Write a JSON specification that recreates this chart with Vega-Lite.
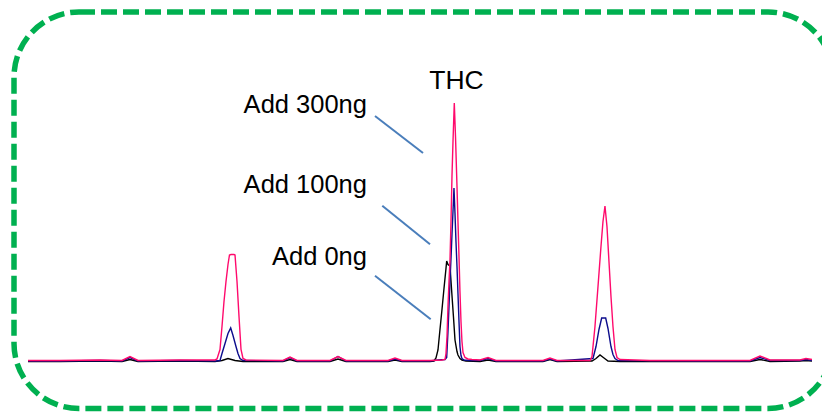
{
  "$schema": "https://vega.github.io/schema/vega-lite/v6.json",
  "width": 819,
  "height": 396.5,
  "autosize": {"type": "none"},
  "padding": {"left": 14, "top": 12, "right": -11, "bottom": 3.5},
  "background": "white",
  "config": {
    "view": {"stroke": "#00b050", "strokeWidth": 5.5, "strokeDash": [16, 6], "cornerRadius": 65},
    "font": "Liberation Sans"
  },
  "datasets": {
    "traces": [
      {"sample": "Add 0ng", "time": 0, "signal": 0},
      {"sample": "Add 0ng", "time": 0.816, "signal": 0},
      {"sample": "Add 0ng", "time": 1.837, "signal": 0.5},
      {"sample": "Add 0ng", "time": 2.398, "signal": 0},
      {"sample": "Add 0ng", "time": 2.602, "signal": 2},
      {"sample": "Add 0ng", "time": 2.806, "signal": 0},
      {"sample": "Add 0ng", "time": 3.878, "signal": 0.5},
      {"sample": "Add 0ng", "time": 4.77, "signal": 0},
      {"sample": "Add 0ng", "time": 4.949, "signal": 1},
      {"sample": "Add 0ng", "time": 5.102, "signal": 3},
      {"sample": "Add 0ng", "time": 5.281, "signal": 1},
      {"sample": "Add 0ng", "time": 5.485, "signal": 0},
      {"sample": "Add 0ng", "time": 6.505, "signal": 0},
      {"sample": "Add 0ng", "time": 6.684, "signal": 2},
      {"sample": "Add 0ng", "time": 6.862, "signal": 0},
      {"sample": "Add 0ng", "time": 7.704, "signal": 0},
      {"sample": "Add 0ng", "time": 7.908, "signal": 2.5},
      {"sample": "Add 0ng", "time": 8.112, "signal": 0},
      {"sample": "Add 0ng", "time": 9.184, "signal": 0},
      {"sample": "Add 0ng", "time": 9.362, "signal": 1.5},
      {"sample": "Add 0ng", "time": 9.541, "signal": 0},
      {"sample": "Add 0ng", "time": 10.255, "signal": 0},
      {"sample": "Add 0ng", "time": 10.357, "signal": 0.5},
      {"sample": "Add 0ng", "time": 10.408, "signal": 3.5},
      {"sample": "Add 0ng", "time": 10.459, "signal": 11.5},
      {"sample": "Add 0ng", "time": 10.51, "signal": 32},
      {"sample": "Add 0ng", "time": 10.561, "signal": 52},
      {"sample": "Add 0ng", "time": 10.612, "signal": 73},
      {"sample": "Add 0ng", "time": 10.663, "signal": 93},
      {"sample": "Add 0ng", "time": 10.681, "signal": 100.5},
      {"sample": "Add 0ng", "time": 10.714, "signal": 97},
      {"sample": "Add 0ng", "time": 10.765, "signal": 95.5},
      {"sample": "Add 0ng", "time": 10.816, "signal": 66},
      {"sample": "Add 0ng", "time": 10.855, "signal": 44},
      {"sample": "Add 0ng", "time": 10.893, "signal": 21.5},
      {"sample": "Add 0ng", "time": 10.944, "signal": 10},
      {"sample": "Add 0ng", "time": 10.969, "signal": 6.5},
      {"sample": "Add 0ng", "time": 11.02, "signal": 3},
      {"sample": "Add 0ng", "time": 11.071, "signal": 1.5},
      {"sample": "Add 0ng", "time": 11.173, "signal": 0.5},
      {"sample": "Add 0ng", "time": 11.531, "signal": 0},
      {"sample": "Add 0ng", "time": 11.735, "signal": 1.5},
      {"sample": "Add 0ng", "time": 11.939, "signal": 0},
      {"sample": "Add 0ng", "time": 13.138, "signal": 0},
      {"sample": "Add 0ng", "time": 13.316, "signal": 2},
      {"sample": "Add 0ng", "time": 13.495, "signal": 0},
      {"sample": "Add 0ng", "time": 14.388, "signal": 0.5},
      {"sample": "Add 0ng", "time": 14.49, "signal": 3},
      {"sample": "Add 0ng", "time": 14.592, "signal": 6.5},
      {"sample": "Add 0ng", "time": 14.694, "signal": 3.5},
      {"sample": "Add 0ng", "time": 14.796, "signal": 0.5},
      {"sample": "Add 0ng", "time": 15.102, "signal": 0},
      {"sample": "Add 0ng", "time": 17.143, "signal": 0},
      {"sample": "Add 0ng", "time": 18.418, "signal": 0},
      {"sample": "Add 0ng", "time": 18.673, "signal": 2},
      {"sample": "Add 0ng", "time": 18.929, "signal": 0},
      {"sample": "Add 0ng", "time": 19.694, "signal": 0.5},
      {"sample": "Add 0ng", "time": 19.847, "signal": 1},
      {"sample": "Add 0ng", "time": 20.0, "signal": 0.5},

      {"sample": "Add 100ng", "time": 0, "signal": 0.5},
      {"sample": "Add 100ng", "time": 0.816, "signal": 0.5},
      {"sample": "Add 100ng", "time": 1.837, "signal": 1},
      {"sample": "Add 100ng", "time": 2.398, "signal": 0.5},
      {"sample": "Add 100ng", "time": 2.602, "signal": 4},
      {"sample": "Add 100ng", "time": 2.806, "signal": 0.5},
      {"sample": "Add 100ng", "time": 3.878, "signal": 1},
      {"sample": "Add 100ng", "time": 4.796, "signal": 0.5},
      {"sample": "Add 100ng", "time": 4.898, "signal": 1},
      {"sample": "Add 100ng", "time": 4.949, "signal": 8},
      {"sample": "Add 100ng", "time": 5.026, "signal": 18},
      {"sample": "Add 100ng", "time": 5.102, "signal": 28},
      {"sample": "Add 100ng", "time": 5.171, "signal": 33.5},
      {"sample": "Add 100ng", "time": 5.23, "signal": 26},
      {"sample": "Add 100ng", "time": 5.306, "signal": 15},
      {"sample": "Add 100ng", "time": 5.357, "signal": 8},
      {"sample": "Add 100ng", "time": 5.408, "signal": 3},
      {"sample": "Add 100ng", "time": 5.485, "signal": 1},
      {"sample": "Add 100ng", "time": 6.505, "signal": 0.5},
      {"sample": "Add 100ng", "time": 6.684, "signal": 4},
      {"sample": "Add 100ng", "time": 6.862, "signal": 0.5},
      {"sample": "Add 100ng", "time": 7.704, "signal": 0.5},
      {"sample": "Add 100ng", "time": 7.908, "signal": 5},
      {"sample": "Add 100ng", "time": 8.112, "signal": 0.5},
      {"sample": "Add 100ng", "time": 9.184, "signal": 0.5},
      {"sample": "Add 100ng", "time": 9.362, "signal": 2.5},
      {"sample": "Add 100ng", "time": 9.541, "signal": 0.5},
      {"sample": "Add 100ng", "time": 10.255, "signal": 0.5},
      {"sample": "Add 100ng", "time": 10.459, "signal": 1.5},
      {"sample": "Add 100ng", "time": 10.638, "signal": 2},
      {"sample": "Add 100ng", "time": 10.681, "signal": 4},
      {"sample": "Add 100ng", "time": 10.714, "signal": 30},
      {"sample": "Add 100ng", "time": 10.74, "signal": 55},
      {"sample": "Add 100ng", "time": 10.765, "signal": 80},
      {"sample": "Add 100ng", "time": 10.791, "signal": 103},
      {"sample": "Add 100ng", "time": 10.816, "signal": 127},
      {"sample": "Add 100ng", "time": 10.842, "signal": 150},
      {"sample": "Add 100ng", "time": 10.867, "signal": 173.5},
      {"sample": "Add 100ng", "time": 10.893, "signal": 148},
      {"sample": "Add 100ng", "time": 10.918, "signal": 120},
      {"sample": "Add 100ng", "time": 10.944, "signal": 95},
      {"sample": "Add 100ng", "time": 10.969, "signal": 68},
      {"sample": "Add 100ng", "time": 10.995, "signal": 40},
      {"sample": "Add 100ng", "time": 11.02, "signal": 15},
      {"sample": "Add 100ng", "time": 11.046, "signal": 6},
      {"sample": "Add 100ng", "time": 11.071, "signal": 3},
      {"sample": "Add 100ng", "time": 11.122, "signal": 1.5},
      {"sample": "Add 100ng", "time": 11.276, "signal": 1},
      {"sample": "Add 100ng", "time": 11.531, "signal": 1},
      {"sample": "Add 100ng", "time": 11.735, "signal": 3},
      {"sample": "Add 100ng", "time": 11.939, "signal": 0.5},
      {"sample": "Add 100ng", "time": 13.138, "signal": 0.5},
      {"sample": "Add 100ng", "time": 13.316, "signal": 2.5},
      {"sample": "Add 100ng", "time": 13.495, "signal": 0.5},
      {"sample": "Add 100ng", "time": 14.413, "signal": 3},
      {"sample": "Add 100ng", "time": 14.49, "signal": 15},
      {"sample": "Add 100ng", "time": 14.566, "signal": 32},
      {"sample": "Add 100ng", "time": 14.635, "signal": 43.5},
      {"sample": "Add 100ng", "time": 14.737, "signal": 43.5},
      {"sample": "Add 100ng", "time": 14.796, "signal": 33},
      {"sample": "Add 100ng", "time": 14.872, "signal": 15},
      {"sample": "Add 100ng", "time": 14.923, "signal": 7},
      {"sample": "Add 100ng", "time": 14.974, "signal": 3},
      {"sample": "Add 100ng", "time": 15.051, "signal": 1},
      {"sample": "Add 100ng", "time": 17.143, "signal": 0.5},
      {"sample": "Add 100ng", "time": 18.418, "signal": 0.5},
      {"sample": "Add 100ng", "time": 18.673, "signal": 4},
      {"sample": "Add 100ng", "time": 18.929, "signal": 1},
      {"sample": "Add 100ng", "time": 19.694, "signal": 1},
      {"sample": "Add 100ng", "time": 19.847, "signal": 2},
      {"sample": "Add 100ng", "time": 20.0, "signal": 1},

      {"sample": "Add 300ng", "time": 0, "signal": 1},
      {"sample": "Add 300ng", "time": 0.816, "signal": 1},
      {"sample": "Add 300ng", "time": 1.837, "signal": 1.5},
      {"sample": "Add 300ng", "time": 2.398, "signal": 1},
      {"sample": "Add 300ng", "time": 2.602, "signal": 5},
      {"sample": "Add 300ng", "time": 2.806, "signal": 1},
      {"sample": "Add 300ng", "time": 3.878, "signal": 1.5},
      {"sample": "Add 300ng", "time": 4.77, "signal": 1.5},
      {"sample": "Add 300ng", "time": 4.821, "signal": 2.5},
      {"sample": "Add 300ng", "time": 4.898, "signal": 12},
      {"sample": "Add 300ng", "time": 4.949, "signal": 35},
      {"sample": "Add 300ng", "time": 5.0, "signal": 60},
      {"sample": "Add 300ng", "time": 5.051, "signal": 80},
      {"sample": "Add 300ng", "time": 5.102, "signal": 97},
      {"sample": "Add 300ng", "time": 5.14, "signal": 106.5},
      {"sample": "Add 300ng", "time": 5.179, "signal": 107},
      {"sample": "Add 300ng", "time": 5.255, "signal": 107},
      {"sample": "Add 300ng", "time": 5.281, "signal": 106.5},
      {"sample": "Add 300ng", "time": 5.332, "signal": 80},
      {"sample": "Add 300ng", "time": 5.383, "signal": 45},
      {"sample": "Add 300ng", "time": 5.434, "signal": 12},
      {"sample": "Add 300ng", "time": 5.485, "signal": 3},
      {"sample": "Add 300ng", "time": 5.561, "signal": 1.5},
      {"sample": "Add 300ng", "time": 6.505, "signal": 1},
      {"sample": "Add 300ng", "time": 6.684, "signal": 4.5},
      {"sample": "Add 300ng", "time": 6.862, "signal": 1},
      {"sample": "Add 300ng", "time": 7.704, "signal": 1},
      {"sample": "Add 300ng", "time": 7.908, "signal": 5},
      {"sample": "Add 300ng", "time": 8.112, "signal": 1},
      {"sample": "Add 300ng", "time": 9.184, "signal": 1},
      {"sample": "Add 300ng", "time": 9.362, "signal": 3.5},
      {"sample": "Add 300ng", "time": 9.541, "signal": 1},
      {"sample": "Add 300ng", "time": 10.255, "signal": 1},
      {"sample": "Add 300ng", "time": 10.561, "signal": 1.5},
      {"sample": "Add 300ng", "time": 10.638, "signal": 2},
      {"sample": "Add 300ng", "time": 10.663, "signal": 8},
      {"sample": "Add 300ng", "time": 10.689, "signal": 25},
      {"sample": "Add 300ng", "time": 10.714, "signal": 55},
      {"sample": "Add 300ng", "time": 10.74, "signal": 80},
      {"sample": "Add 300ng", "time": 10.765, "signal": 101},
      {"sample": "Add 300ng", "time": 10.791, "signal": 140},
      {"sample": "Add 300ng", "time": 10.816, "signal": 185},
      {"sample": "Add 300ng", "time": 10.842, "signal": 220},
      {"sample": "Add 300ng", "time": 10.875, "signal": 258.5},
      {"sample": "Add 300ng", "time": 10.906, "signal": 225},
      {"sample": "Add 300ng", "time": 10.944, "signal": 175},
      {"sample": "Add 300ng", "time": 10.969, "signal": 140},
      {"sample": "Add 300ng", "time": 10.995, "signal": 105},
      {"sample": "Add 300ng", "time": 11.02, "signal": 70},
      {"sample": "Add 300ng", "time": 11.046, "signal": 40},
      {"sample": "Add 300ng", "time": 11.071, "signal": 20},
      {"sample": "Add 300ng", "time": 11.097, "signal": 9},
      {"sample": "Add 300ng", "time": 11.148, "signal": 4},
      {"sample": "Add 300ng", "time": 11.224, "signal": 2.5},
      {"sample": "Add 300ng", "time": 11.327, "signal": 2},
      {"sample": "Add 300ng", "time": 11.531, "signal": 1.5},
      {"sample": "Add 300ng", "time": 11.735, "signal": 4},
      {"sample": "Add 300ng", "time": 11.939, "signal": 1},
      {"sample": "Add 300ng", "time": 13.138, "signal": 1},
      {"sample": "Add 300ng", "time": 13.316, "signal": 3.5},
      {"sample": "Add 300ng", "time": 13.495, "signal": 1},
      {"sample": "Add 300ng", "time": 14.337, "signal": 1},
      {"sample": "Add 300ng", "time": 14.388, "signal": 5},
      {"sample": "Add 300ng", "time": 14.464, "signal": 35},
      {"sample": "Add 300ng", "time": 14.541, "signal": 75},
      {"sample": "Add 300ng", "time": 14.617, "signal": 115},
      {"sample": "Add 300ng", "time": 14.668, "signal": 140},
      {"sample": "Add 300ng", "time": 14.719, "signal": 155.5},
      {"sample": "Add 300ng", "time": 14.77, "signal": 135},
      {"sample": "Add 300ng", "time": 14.821, "signal": 100},
      {"sample": "Add 300ng", "time": 14.872, "signal": 65},
      {"sample": "Add 300ng", "time": 14.923, "signal": 35},
      {"sample": "Add 300ng", "time": 14.974, "signal": 12},
      {"sample": "Add 300ng", "time": 15.026, "signal": 4},
      {"sample": "Add 300ng", "time": 15.102, "signal": 2},
      {"sample": "Add 300ng", "time": 15.867, "signal": 1},
      {"sample": "Add 300ng", "time": 17.143, "signal": 1},
      {"sample": "Add 300ng", "time": 18.418, "signal": 1},
      {"sample": "Add 300ng", "time": 18.673, "signal": 5.5},
      {"sample": "Add 300ng", "time": 18.929, "signal": 1.5},
      {"sample": "Add 300ng", "time": 19.694, "signal": 1.5},
      {"sample": "Add 300ng", "time": 19.847, "signal": 3},
      {"sample": "Add 300ng", "time": 20.0, "signal": 2}
    ],
    "leaders": [
      {"time": 8.852, "signal": 245.5, "time2": 10.077, "signal2": 208.5},
      {"time": 9.038, "signal": 155.8, "time2": 10.255, "signal2": 117.2},
      {"time": 8.852, "signal": 85.8, "time2": 10.273, "signal2": 42.2}
    ],
    "labels": [
      {"kind": "peak", "text": "THC", "time": 10.93, "signal": 272.2},
      {"kind": "sample", "text": "Add 300ng", "time": 8.648, "signal": 248.2},
      {"kind": "sample", "text": "Add 100ng", "time": 8.648, "signal": 169},
      {"kind": "sample", "text": "Add 0ng", "time": 8.648, "signal": 97}
    ]
  },
  "encoding": {
    "x": {"field": "time", "type": "quantitative", "scale": {"domain": [-0.357, 20.536], "nice": false, "zero": false}, "axis": null},
    "y": {"field": "signal", "type": "quantitative", "scale": {"domain": [-47, 349.5], "nice": false, "zero": false}, "axis": null}
  },
  "layer": [
    {
      "data": {"name": "traces"},
      "mark": {"type": "line", "strokeWidth": 1.4},
      "encoding": {
        "color": {
          "field": "sample",
          "type": "nominal",
          "scale": {"domain": ["Add 0ng", "Add 100ng", "Add 300ng"], "range": ["#000000", "#0c0c8c", "#ff0a6c"]},
          "legend": null
        }
      }
    },
    {
      "data": {"name": "leaders"},
      "mark": {"type": "rule", "color": "#4a7ebb", "strokeWidth": 2},
      "encoding": {
        "x2": {"field": "time2"},
        "y2": {"field": "signal2"}
      }
    },
    {
      "data": {"name": "labels"},
      "transform": [{"filter": "datum.kind === 'sample'"}],
      "mark": {"type": "text", "align": "right", "baseline": "alphabetic", "fontSize": 25.5, "color": "#000000"},
      "encoding": {"text": {"field": "text"}}
    },
    {
      "data": {"name": "labels"},
      "transform": [{"filter": "datum.kind === 'peak'"}],
      "mark": {"type": "text", "align": "center", "baseline": "alphabetic", "fontSize": 26.5, "color": "#000000"},
      "encoding": {"text": {"field": "text"}}
    }
  ]
}
